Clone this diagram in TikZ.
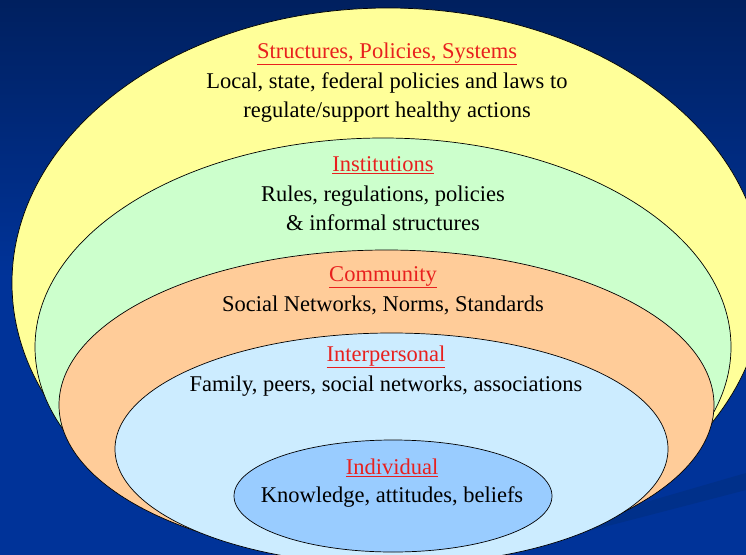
\documentclass[tikz,border=0pt]{standalone}
\usepackage{fontspec}
\setmainfont{Liberation Serif}
\usetikzlibrary{shapes.geometric}
\definecolor{bgtop}{HTML}{00205F}
\definecolor{bgbot}{HTML}{003399}
\definecolor{band}{HTML}{00308A}
\definecolor{cyellow}{HTML}{FFFF99}
\definecolor{cgreen}{HTML}{CCFFCC}
\definecolor{corange}{HTML}{FFCC99}
\definecolor{clblue}{HTML}{CCECFF}
\definecolor{cblue}{HTML}{99CCFF}
\definecolor{headred}{HTML}{E8201E}
\tikzset{
  ring/.style={ellipse, draw=black, line width=0.7pt, inner sep=0pt},
  head/.style={text=headred, font=\fontsize{22.5}{27}\selectfont, inner sep=0pt},
  body/.style={text=black, font=\fontsize{22.5}{29}\selectfont, align=center, inner sep=0pt}
}
\begin{document}
\begin{tikzpicture}[x=1pt,y=-1pt]
\useasboundingbox (0,0) rectangle (746,554);
\clip (0,0) rectangle (746,554);
\shade[top color=bgtop, bottom color=bgbot, middle color=bgbot] (0,0) rectangle (746,554);
\fill[band] (746,473) -- (746,490) -- (500,554) -- (467,554) -- cycle;
\node[ring, fill=cyellow, minimum width=752pt, minimum height=550pt] (l1) at (388,283) {};
\node[ring, fill=cgreen, minimum width=696pt, minimum height=418pt] (l2) at (383,347) {};
\node[ring, fill=corange, minimum width=655pt, minimum height=310pt] (l3) at (386.5,405) {};
\node[ring, fill=clblue, minimum width=553pt, minimum height=232pt] (l4) at (391.5,449) {};
\node[ring, fill=cblue, minimum width=318pt, minimum height=112pt] (l5) at (393,496) {};
\node[head] (h1) at (387,54) {\underline{Structures, Policies, Systems}};
\node[body] (t1) at (387,98) {Local, state, federal policies and laws to\\regulate/support healthy actions};
\node[head] (h2) at (383,165) {\underline{Institutions}};
\node[body] (t2) at (383,208) {Rules, regulations, policies\\\& informal structures};
\node[head] (h3) at (383,277) {\underline{Community}};
\node[body] (t3) at (383,305) {Social Networks, Norms, Standards};
\node[head] (h4) at (386,357) {\underline{Interpersonal}};
\node[body] (t4) at (386,386) {Family, peers, social networks, associations};
\node[head] (h5) at (392,468) {\underline{Individual}};
\node[body] (t5) at (392,497) {Knowledge, attitudes, beliefs};
\end{tikzpicture}
\end{document}
